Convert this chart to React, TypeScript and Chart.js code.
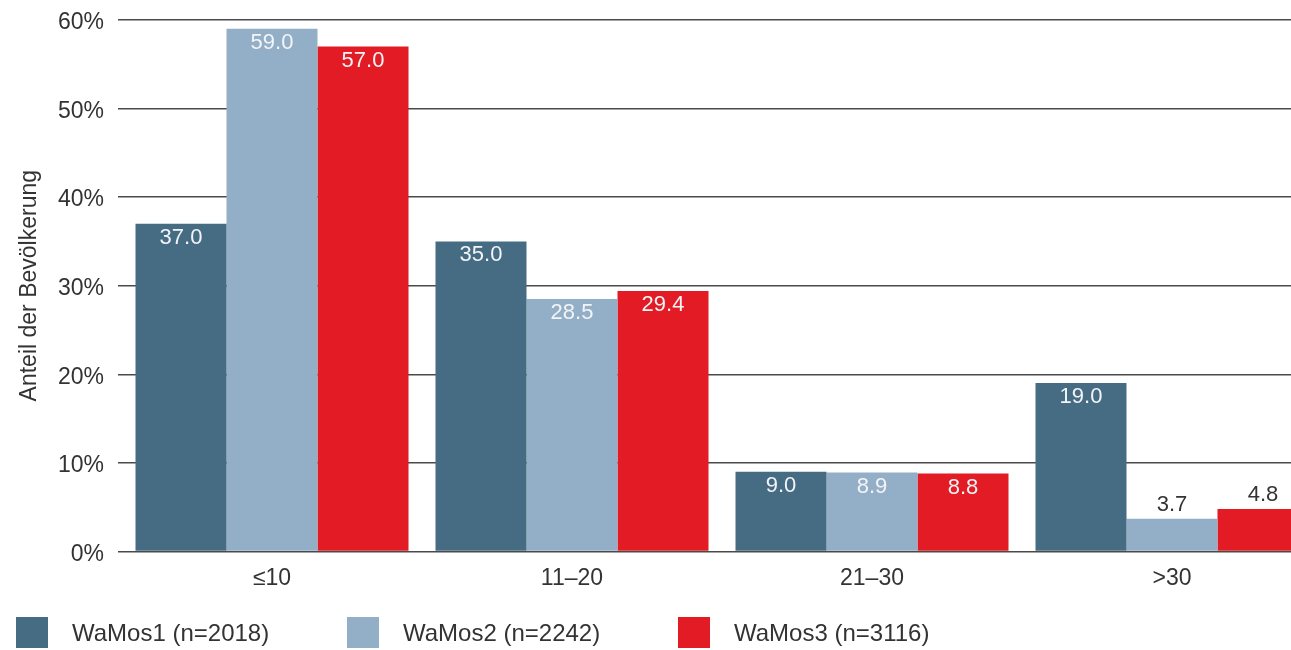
import React, { useEffect, useRef } from "react";
import { Chart, registerables } from "chart.js";

Chart.register(...registerables);

const categories = ["≤10", "11–20", "21–30", ">30"];
const seriesNames = ["WaMos1 (n=2018)", "WaMos2 (n=2242)", "WaMos3 (n=3116)"];
const wamos1 = [37.0, 35.0, 9.0, 19.0];
const wamos2 = [59.0, 28.5, 8.9, 3.7];
const wamos3 = [57.0, 29.4, 8.8, 4.8];
const seriesColors = ["#466c84", "#93afc7", "#e21b24"];
const yTicks = [0, 10, 20, 30, 40, 50, 60];
const yTitle = "Anteil der Bevölkerung";

const FONT = "'Liberation Sans', Arial, sans-serif";

const labelPlugin = {
  id: "barLabels",
  afterDatasetsDraw(chart: any) {
    const ctx = chart.ctx;
    ctx.save();
    ctx.font = `22px ${FONT}`;
    ctx.textAlign = "center";
    ctx.textBaseline = "middle";
    chart.data.datasets.forEach((ds: any, di: number) => {
      const meta = chart.getDatasetMeta(di);
      meta.data.forEach((bar: any, i: number) => {
        const v = ds.data[i];
        const txt = v.toFixed(1);
        const h = bar.base - bar.y;
        if (h > 55) {
          ctx.fillStyle = "#f2f4f7";
          ctx.fillText(txt, bar.x, bar.y + 14);
        } else {
          ctx.fillStyle = "#333333";
          ctx.fillText(txt, bar.x, bar.y - 14);
        }
      });
    });
    ctx.restore();
  },
};

const legendPlugin = {
  id: "customLegend",
  afterDraw(chart: any) {
    const ctx = chart.ctx;
    ctx.save();
    ctx.font = `24px ${FONT}`;
    ctx.textBaseline = "middle";
    ctx.textAlign = "left";
    chart.data.datasets.forEach((ds: any, i: number) => {
      const x = 16 + i * 331;
      const y = 617;
      ctx.fillStyle = ds.backgroundColor;
      ctx.fillRect(x, y, 32, 31);
      ctx.fillStyle = "#333333";
      ctx.fillText(ds.label, x + 56, y + 17);
    });
    ctx.restore();
  },
};

export default function App() {
  const ref = useRef<HTMLCanvasElement>(null);
  useEffect(() => {
    if (!ref.current) return;
    const chart = new Chart(ref.current, {
      type: "bar",
      data: {
        labels: categories,
        datasets: [wamos1, wamos2, wamos3].map((d, i) => ({
          label: seriesNames[i],
          data: d,
          backgroundColor: seriesColors[i],
          borderWidth: 0,
          barPercentage: 1,
          categoryPercentage: 0.91,
        })),
      },
      options: {
        animation: false,
        responsive: true,
        maintainAspectRatio: false,
        layout: { padding: { top: 20, bottom: 45, left: 0, right: 8 } },
        plugins: {
          legend: { display: false },
          tooltip: { enabled: false },
        },
        scales: {
          x: {
            grid: { display: false, drawTicks: false },
            border: { display: false },
            ticks: {
              color: "#333333",
              font: { size: 23, family: FONT },
              padding: 13,
            },
          },
          y: {
            min: 0,
            max: 60,
            afterFit: (scale: any) => {
              scale.width = 122;
              scale.paddingTop = 0;
              scale.paddingBottom = 0;
            },
            afterBuildTicks: (scale: any) => {
              scale.ticks = yTicks.map((v) => ({ value: v }));
            },
            grid: {
              color: "#4a4a4a",
              lineWidth: 1.5,
              drawTicks: true,
              tickLength: 4,
            },
            border: { display: false },
            ticks: {
              color: "#333333",
              font: { size: 23, family: FONT },
              padding: 14,
              labelOffset: 3,
              callback: (v: any) => `${v}%`,
            },
            title: {
              display: true,
              text: yTitle,
              color: "#333333",
              font: { size: 23, family: FONT },
              padding: { top: 16, bottom: 0 },
            },
          },
        },
      },
      plugins: [labelPlugin, legendPlugin],
    });
    return () => chart.destroy();
  }, []);

  return (
    <div
      style={{
        position: "fixed",
        left: 0,
        top: 0,
        width: 1291,
        height: 650,
        overflow: "hidden",
        background: "#ffffff",
      }}
    >
      <div style={{ position: "relative", width: 1330, height: 650 }}>
        <canvas ref={ref} />
      </div>
    </div>
  );
}
